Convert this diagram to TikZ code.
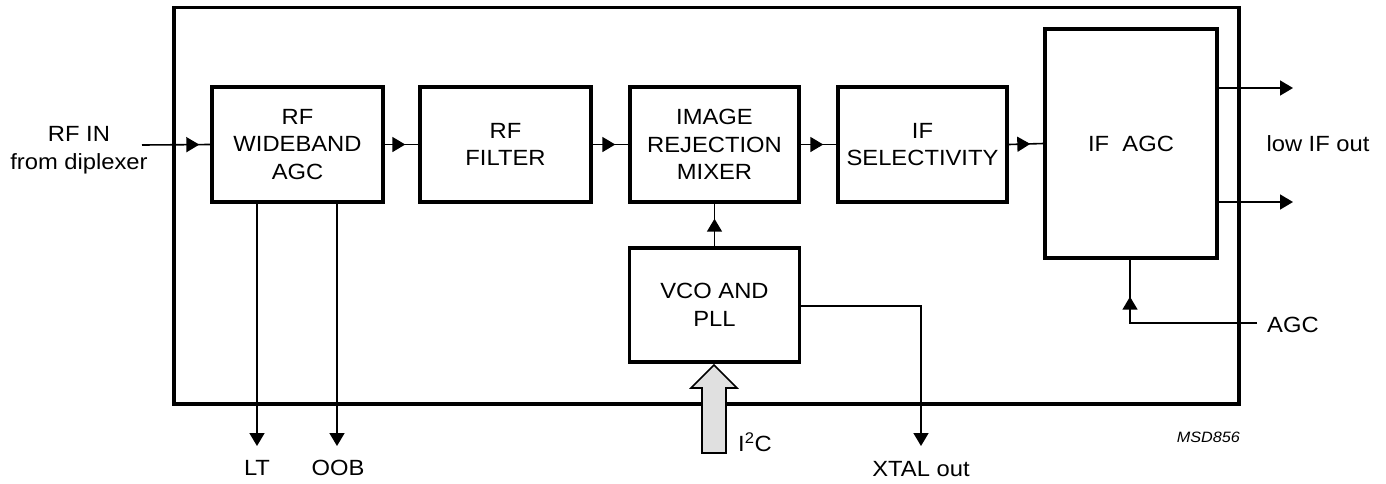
\documentclass[tikz,border=0pt]{standalone}
\usepackage{fontspec}
\setmainfont{Liberation Sans}[FakeStretch=1.08]
\usetikzlibrary{arrows.meta,decorations.markings}
\tikzset{
  blk/.style={draw, line width=3.4pt, align=center, inner sep=0pt,
    font=\fontsize{22}{27.5}\selectfont},
  conn/.style={line width=1.6pt},
  tipa/.style={-{Triangle[length=13pt,width=15pt]}},
  midarrow/.style={postaction={decorate},decoration={markings,
    mark=at position #1 with {\arrow{Triangle[length=13pt,width=15pt]}}}},
  lbl/.style={inner sep=0pt, font=\fontsize{22}{27.5}\selectfont, align=center},
  outer/.style={draw, line width=3.6pt}
}
\begin{document}
\begin{tikzpicture}[x=1pt,y=-1pt]
\useasboundingbox (0,0) rectangle (1386,483);
% outer box
\draw[outer] (174,7.5) rectangle (1239,404);
% blocks
\node[blk, minimum width=171pt, minimum height=115pt] (agc) at (297.5,144.5) {RF\\WIDEBAND\\AGC};
\node[blk, minimum width=171pt, minimum height=115pt] (filt) at (505.5,144.5) {RF\\FILTER};
\node[blk, minimum width=169pt, minimum height=115pt] (mix) at (714.5,144.5) {IMAGE\\REJECTION\\MIXER};
\node[blk, minimum width=169pt, minimum height=115pt] (sel) at (922.5,144.5) {IF\\SELECTIVITY};
\node[blk, minimum width=172pt, minimum height=229pt] (ifagc) at (1131,143.5) {IF\ \ AGC};
\node[blk, minimum width=170pt, minimum height=114pt] (vco) at (714.5,305) {VCO AND\\PLL};
% coordinates
\coordinate (rfin) at (142,145);
\coordinate (lt) at (257,446);
\coordinate (oob) at (337,446);
\coordinate (xtalc) at (921,306);
\coordinate (xtal) at (921,446);
\coordinate (out1) at (1293,88);
\coordinate (out2) at (1293,202);
\coordinate (agcin) at (1257,323);
\coordinate (agcc) at (1130,323);
% labels
\node[lbl] (rfinl) at (79,150) {RF IN\\from diplexer};
\node[lbl, anchor=base] (ltl) at (257,475) {LT};
\node[lbl, anchor=base] (oobl) at (338,475) {OOB};
\node[lbl, anchor=base] (xtall) at (921,476) {XTAL out};
\node[lbl, anchor=base west] (i2cl) at (738,451) {I\textsuperscript{2}C};
\node[lbl, anchor=base west] (agcl) at (1267,332) {AGC};
\node[lbl, anchor=base] (lowif) at (1318,151) {low IF out};
\node[inner sep=0pt, anchor=base east, font=\fontsize{15}{18}\selectfont\itshape] (msd) at (1240,442) {MSD856};
% main chain
\draw[conn, midarrow=-11pt] (rfin) -- (agc.west);
\draw[conn, midarrow=-13pt] (agc.east) -- (filt.west);
\draw[conn, midarrow=-13pt] (filt.east) -- (mix.west);
\draw[conn, midarrow=-13pt] (mix.east) -- (sel.west);
\draw[conn, midarrow=-13pt] (sel.east) -- (ifagc.west);
\draw[conn, midarrow=-15pt] (vco.north) -- (mix.south);
% outputs
\draw[conn, tipa] (agc.south -| lt) -- (lt);
\draw[conn, tipa] (agc.south -| oob) -- (oob);
\draw[conn, tipa] (vco.east |- xtalc) -- (xtalc) -- (xtal);
\draw[conn, tipa] (ifagc.east |- out1) -- (out1);
\draw[conn, tipa] (ifagc.east |- out2) -- (out2);
\draw[conn, midarrow=-37pt] (agcin) -- (agcc) -- (ifagc.south -| agcc);
% I2C bus arrow
\draw[line width=1.6pt, fill=black!12] (714,365) -- (737,388) -- (726,388) -- (726,453) -- (702,453) -- (702,388) -- (691,388) -- cycle;
\end{tikzpicture}
\end{document}
